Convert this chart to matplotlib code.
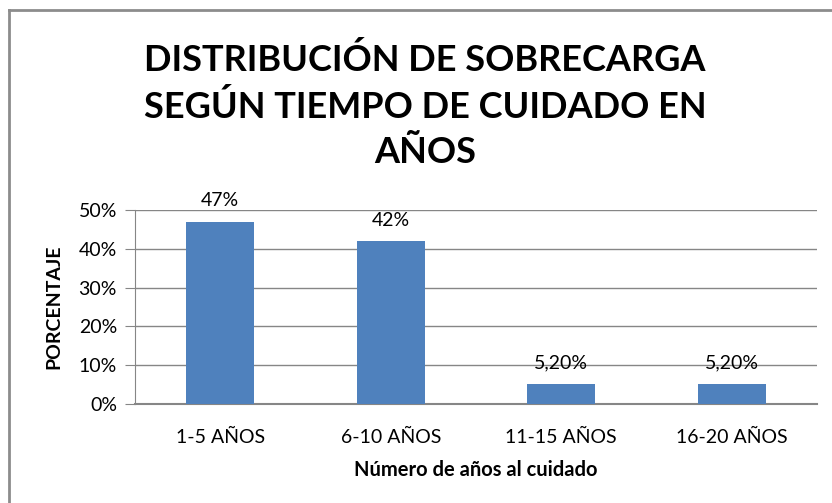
import matplotlib
matplotlib.use('Agg')
import matplotlib.pyplot as plt
from matplotlib.lines import Line2D

categorias = ['1-5 AÑOS', '6-10 AÑOS', '11-15 AÑOS', '16-20 AÑOS']
porcentaje = [47, 42, 5.2, 5.2]
etiquetas = ['47%', '42%', '5,20%', '5,20%']

plt.rcParams['font.family'] = ['Lato', 'DejaVu Sans']

fig = plt.figure(figsize=(8.32, 5.03), dpi=100)
ax = fig.add_axes([0.1623, 0.1968, 0.8197, 0.3857])

x = range(len(categorias))
ax.bar(x, porcentaje, width=0.4, color='#4F81BD', zorder=3)
for i, (v, t) in enumerate(zip(porcentaje, etiquetas)):
    ax.text(i, v + 3.2, t, ha='center', va='bottom', fontsize=14, zorder=4)

ax.set_xlim(-0.5, 3.5)
ax.set_ylim(0, 50)
ax.set_yticks([0, 10, 20, 30, 40, 50])
ax.set_yticklabels(['0%', '10%', '20%', '30%', '40%', '50%'], fontsize=14)
ax.set_xticks(list(x))
ax.set_xticklabels(categorias, fontsize=14)
ax.tick_params(axis='x', length=0, pad=18)
ax.tick_params(axis='y', length=7, color='#868686', pad=6)
ax.grid(axis='y', color='#868686', linewidth=1, zorder=0)
for s in ['top', 'right']:
    ax.spines[s].set_visible(False)
ax.spines['left'].set_color('#868686')
ax.spines['bottom'].set_color('#868686')
ax.spines['bottom'].set_linewidth(1.5)

ax.set_xlabel('Número de años al cuidado', fontsize=14.5, fontweight='bold', labelpad=10)
ax.set_ylabel('PORCENTAJE', fontsize=14, fontweight='bold', labelpad=12)

fig.text(0.511, 0.789, 'DISTRIBUCIÓN DE SOBRECARGA\nSEGÚN TIEMPO DE CUIDADO EN\nAÑOS',
         ha='center', va='center', fontsize=26, fontweight='bold', linespacing=1.45)

# borde del gráfico
fig.add_artist(Line2D([0.0108, 0.0108], [0, 0.98], transform=fig.transFigure, color='#8c8c8c', lw=2))
fig.add_artist(Line2D([0.0108, 1], [0.98, 0.98], transform=fig.transFigure, color='#8c8c8c', lw=2))

fig.savefig('out.png', dpi=100)
